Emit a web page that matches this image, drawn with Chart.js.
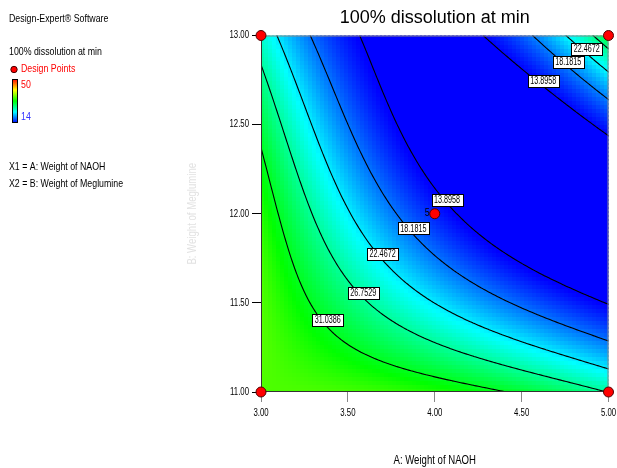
<!DOCTYPE html>
<html>
  <head>
    <script src="https://cdn.jsdelivr.net/npm/chart.js@4/dist/chart.umd.min.js"></script>
    <style>
      body { margin: 0; background: #fff; }
    </style>
  </head>

  <body>
    <canvas id="canvas" width="617" height="468"></canvas>
    <script>
      const SANS = "'Liberation Sans', Arial, sans-serif";

      const levels = [13.8958, 18.1815, 22.4672, 26.7529, 31.0386];

      // points, [A, B]
      const line13 = [[3.564, 13.0], [3.858, 12.339], [3.867, 12.33], [4.011, 12.116], [4.071, 12.077], [4.193, 11.955], [4.385, 11.834], [4.635, 11.628], [5.0, 11.479]];
      const line13b = [[4.279, 13.0], [4.529, 12.788], [4.625, 12.746], [5.0, 12.436]];
      const line18 = [[3.282, 13.0], [3.58, 12.33], [3.79, 12.011], [3.877, 11.918], [4.001, 11.787], [4.145, 11.627], [4.55, 11.47], [5.0, 11.282]];
      const line18b = [[4.558, 13.0], [4.769, 12.85], [5.0, 12.634]];
      const line22 = [[3.09, 13.0], [3.359, 12.33], [3.599, 11.862], [3.7, 11.774], [3.79, 11.628], [4.001, 11.488], [4.5, 11.295], [5.0, 11.127]];
      const line22b = [[4.75, 13.0], [4.875, 12.924], [5.0, 12.788]];
      const line26 = [[3.0, 12.844], [3.177, 12.33], [3.436, 11.628], [3.589, 11.557], [3.79, 11.422], [4.001, 11.273], [4.5, 11.114], [5.0, 11.005]];
      const line26b = [[4.903, 13.0], [5.0, 12.907]];
      const line31 = [[3.0, 12.404], [3.013, 12.33], [3.224, 11.628], [3.384, 11.404], [3.599, 11.198], [4.001, 11.086], [4.423, 11.0]];

      const spotA = [3.0, 3.0, 3.5, 4.0, 4.5, 4.2, 5.0, 3.0];
      const spotB = [11.0, 12.0, 11.0, 12.0, 12.3, 12.6, 12.0, 13.0];
      const spotV = [35, 32.8, 33.8, 14.3, 10, 11.5, 9.7, 24.9];

      // design points (A, B) and replicate count
      const designA = [3, 3, 5, 5, 4];
      const designB = [11, 13, 11, 13, 12];
      const designRuns = [1, 1, 1, 1, 5];

      // contour label placements
      const tagA = [4.071, 4.625, 4.769, 4.875, 3.877, 3.7, 3.589, 3.384];
      const tagB = [12.077, 12.746, 12.85, 12.924, 11.918, 11.774, 11.557, 11.404];
      const tagLevel = [0, 0, 1, 2, 1, 2, 3, 4];

      const scaleLow = 14;
      const scaleHigh = 50;

      const traces = [
        [line13, 0], [line13b, 0], [line18, 1], [line18b, 1], [line22, 2],
        [line22b, 2], [line26, 3], [line26b, 3], [line31, 4],
      ];

      // cubic response surface in coded units
      const TERMS = [
        (u, v) => 1, (u, v) => u, (u, v) => v, (u, v) => u * v, (u, v) => u * u,
        (u, v) => v * v, (u, v) => u * u * v, (u, v) => u * v * v, (u, v) => u * u * u, (u, v) => v * v * v,
      ];

      function fitSurface() {
        const rows = [];
        const rhs = [];
        const add = (A, B, val) => {
          rows.push(TERMS.map((t) => t(A - 4, B - 12)));
          rhs.push(val);
        };
        traces.forEach(([pts, li]) => pts.forEach((p) => add(p[0], p[1], levels[li])));
        spotA.forEach((a, i) => add(a, spotB[i], spotV[i]));

        const n = TERMS.length;
        const M = Array.from({ length: n }, () => new Array(n + 1).fill(0));
        rows.forEach((r, k) => {
          for (let i = 0; i < n; i++) {
            for (let j = 0; j < n; j++) M[i][j] += r[i] * r[j];
            M[i][n] += r[i] * rhs[k];
          }
        });
        for (let c = 0; c < n; c++) {
          let p = c;
          for (let r = c + 1; r < n; r++) if (Math.abs(M[r][c]) > Math.abs(M[p][c])) p = r;
          [M[c], M[p]] = [M[p], M[c]];
          for (let r = 0; r < n; r++) {
            if (r === c) continue;
            const f = M[r][c] / M[c][c];
            for (let k = c; k <= n; k++) M[r][k] -= f * M[c][k];
          }
        }
        return M.map((row, i) => row[n] / row[i]);
      }

      const coef = fitSurface();
      const response = (A, B) => TERMS.reduce((s, t, i) => s + coef[i] * t(A - 4, B - 12), 0);

      // blue - cyan - green - yellow - red
      const ramp = [[0, 0, 255], [0, 255, 255], [0, 255, 0], [255, 255, 0], [255, 0, 0]];
      function colourFor(val) {
        let t = (val - scaleLow) / (scaleHigh - scaleLow);
        t = Math.max(0, Math.min(1, t)) * (ramp.length - 1);
        const i = Math.min(ramp.length - 2, Math.floor(t));
        const f = t - i;
        const c = ramp[i].map((c0, k) => Math.round(c0 + (ramp[i + 1][k] - c0) * f));
        return `rgb(${c[0]},${c[1]},${c[2]})`;
      }

      // narrow lettering: Arial metrics squeezed sideways
      function squeezeText(ctx, text, x, y, size, align, colour, squeeze = 0.8) {
        ctx.save();
        ctx.font = `${size}px ${SANS}`;
        ctx.fillStyle = colour;
        ctx.textAlign = align;
        ctx.textBaseline = 'middle';
        ctx.translate(x, y);
        ctx.scale(squeeze, 1);
        ctx.fillText(text, 0, 0);
        ctx.restore();
      }

      // marching squares over a regular grid, segments in data units
      function contour(level, n) {
        const segs = [];
        const val = [];
        for (let j = 0; j <= n; j++) {
          val.push([]);
          for (let i = 0; i <= n; i++) val[j].push(response(3 + (2 * i) / n, 11 + (2 * j) / n));
        }
        const cross = (a1, b1, v1, a2, b2, v2) => {
          const f = (level - v1) / (v2 - v1);
          return [a1 + (a2 - a1) * f, b1 + (b2 - b1) * f];
        };
        for (let j = 0; j < n; j++) {
          for (let i = 0; i < n; i++) {
            const a0 = 3 + (2 * i) / n, a1 = 3 + (2 * (i + 1)) / n;
            const b0 = 11 + (2 * j) / n, b1 = 11 + (2 * (j + 1)) / n;
            const c = [
              [a0, b0, val[j][i]], [a1, b0, val[j][i + 1]],
              [a1, b1, val[j + 1][i + 1]], [a0, b1, val[j + 1][i]],
            ];
            const pts = [];
            for (let e = 0; e < 4; e++) {
              const p = c[e], q = c[(e + 1) % 4];
              if ((p[2] < level) !== (q[2] < level)) pts.push(cross(p[0], p[1], p[2], q[0], q[1], q[2]));
            }
            if (pts.length >= 2) segs.push([pts[0], pts[1]]);
            if (pts.length === 4) segs.push([pts[2], pts[3]]);
          }
        }
        return segs;
      }

      const surfacePlugin = {
        id: 'surface',
        beforeDatasetsDraw(chart) {
          const { ctx, chartArea: area } = chart;
          const xs = chart.scales.x;
          const ys = chart.scales.y;
          ctx.save();
          ctx.beginPath();
          ctx.rect(area.left, area.top, area.right - area.left, area.bottom - area.top);
          ctx.clip();

          // shaded cells
          const nx = 87, ny = 89;
          for (let i = 0; i < nx; i++) {
            const A0 = 3 + (2 * i) / nx, A1 = 3 + (2 * (i + 1)) / nx;
            const px0 = Math.floor(xs.getPixelForValue(A0));
            const px1 = Math.ceil(xs.getPixelForValue(A1));
            for (let j = 0; j < ny; j++) {
              const B0 = 11 + (2 * j) / ny, B1 = 11 + (2 * (j + 1)) / ny;
              const py0 = Math.ceil(ys.getPixelForValue(B0));
              const py1 = Math.floor(ys.getPixelForValue(B1));
              ctx.fillStyle = colourFor(response((A0 + A1) / 2, (B0 + B1) / 2));
              ctx.fillRect(px0, py1, px1 - px0 + 1, py0 - py1 + 1);
            }
          }

          // contour lines
          ctx.strokeStyle = '#000';
          ctx.lineWidth = 1.1;
          ctx.lineCap = 'round';
          levels.forEach((lv) => {
            ctx.beginPath();
            contour(lv, 160).forEach(([p, q]) => {
              ctx.moveTo(xs.getPixelForValue(p[0]), ys.getPixelForValue(p[1]));
              ctx.lineTo(xs.getPixelForValue(q[0]), ys.getPixelForValue(q[1]));
            });
            ctx.stroke();
          });

          // level tags
          tagA.forEach((a, i) => {
            const text = levels[tagLevel[i]].toFixed(4);
            const x = xs.getPixelForValue(a);
            const y = ys.getPixelForValue(tagB[i]);
            ctx.font = `10px ${SANS}`;
            const w = Math.round(ctx.measureText(text).width * 0.72 + 5);
            const h = 12;
            const l = Math.round(x - w / 2) + 0.5;
            const t = Math.round(y - h / 2) + 0.5;
            ctx.fillStyle = '#fff';
            ctx.fillRect(l, t, w, h);
            ctx.strokeStyle = '#000';
            ctx.lineWidth = 1;
            ctx.strokeRect(l, t, w, h);
            squeezeText(ctx, text, x, y + 0.5, 10, 'center', '#000', 0.72);
          });
          ctx.restore();

          // frame
          ctx.save();
          ctx.lineWidth = 1;
          ctx.strokeStyle = '#888';
          ctx.beginPath();
          ctx.moveTo(area.left, area.top + 0.5);
          ctx.lineTo(area.right, area.top + 0.5);
          ctx.moveTo(area.right - 0.5, area.top);
          ctx.lineTo(area.right - 0.5, area.bottom);
          ctx.stroke();
          ctx.strokeStyle = '#333';
          ctx.beginPath();
          ctx.moveTo(area.left + 0.5, area.top);
          ctx.lineTo(area.left + 0.5, area.bottom);
          ctx.moveTo(area.left, area.bottom - 0.5);
          ctx.lineTo(area.right, area.bottom - 0.5);
          ctx.stroke();
          ctx.restore();
        },
        afterDraw(chart) {
          const { ctx, chartArea: area } = chart;
          const xs = chart.scales.x;
          const ys = chart.scales.y;
          const midX = (area.left + area.right) / 2;

          // tick labels
          xs.ticks.forEach((t) => squeezeText(ctx, t.value.toFixed(2), xs.getPixelForValue(t.value), area.bottom + 21, 10, 'center', '#000', 0.78));
          ys.ticks.forEach((t) => squeezeText(ctx, t.value.toFixed(2), area.left - 12, ys.getPixelForValue(t.value), 10, 'right', '#000', 0.78));

          // axis captions
          squeezeText(ctx, 'A: Weight of NAOH', midX, 461, 12, 'center', '#000');
          ctx.save();
          ctx.translate(193, (area.top + area.bottom) / 2);
          ctx.rotate(-Math.PI / 2);
          squeezeText(ctx, 'B: Weight of Meglumine', 0, 0, 12, 'center', '#e2e2e2');
          ctx.restore();

          // replicate count beside the centre point
          designRuns.forEach((n, i) => {
            if (n > 1) squeezeText(ctx, String(n), xs.getPixelForValue(designA[i]) - 5, ys.getPixelForValue(designB[i]) - 1, 11, 'right', '#000');
          });

          // title
          ctx.save();
          ctx.textAlign = 'center';
          ctx.textBaseline = 'middle';
          ctx.fillStyle = '#000';
          ctx.font = `18px ${SANS}`;
          ctx.fillText('100% dissolution at min', midX, 18);
          ctx.restore();

          // side legend
          squeezeText(ctx, 'Design-Expert\u00ae Software', 9, 19, 11, 'left', '#000');
          squeezeText(ctx, '100% dissolution at min', 9, 52, 11, 'left', '#000');
          squeezeText(ctx, 'Design Points', 21, 69, 11, 'left', '#ff0000');
          ctx.save();
          ctx.fillStyle = '#ff0000';
          ctx.strokeStyle = '#400';
          ctx.lineWidth = 1;
          ctx.beginPath();
          ctx.arc(14, 69.5, 3.2, 0, Math.PI * 2);
          ctx.fill();
          ctx.stroke();

          const grad = ctx.createLinearGradient(0, 123, 0, 79);
          ramp.forEach((c, i) => grad.addColorStop(i / (ramp.length - 1), `rgb(${c[0]},${c[1]},${c[2]})`));
          ctx.fillStyle = grad;
          ctx.fillRect(12, 79, 6, 44);
          ctx.strokeStyle = '#000';
          ctx.strokeRect(12.5, 79.5, 5, 43);
          ctx.restore();
          squeezeText(ctx, String(scaleHigh), 21, 85, 11, 'left', '#ff0000');
          squeezeText(ctx, String(scaleLow), 21, 117, 11, 'left', '#3333ff');

          squeezeText(ctx, 'X1 = A: Weight of NAOH', 9, 167, 11, 'left', '#000');
          squeezeText(ctx, 'X2 = B: Weight of Meglumine', 9, 184, 11, 'left', '#000');
        },
      };

      const chart = new Chart(document.getElementById('canvas').getContext('2d'), {
        type: 'scatter',
        data: {
          datasets: [
            {
              data: designA.map((a, i) => ({ x: a, y: designB[i] })),
              backgroundColor: '#ff0000',
              borderColor: '#500000',
              borderWidth: 1,
              pointRadius: 5,
              clip: false,
            },
          ],
        },
        options: {
          responsive: false,
          animation: false,
          events: [],
          layout: {
            padding: { left: 0, right: 8.5, top: 35.5, bottom: 0 },
          },
          plugins: {
            legend: { display: false },
            tooltip: { enabled: false },
          },
          scales: {
            x: {
              type: 'linear',
              min: 3,
              max: 5,
              ticks: { stepSize: 0.5, display: false },
              grid: { drawOnChartArea: false, tickLength: 10, tickColor: '#888' },
              border: { display: false },
              afterFit: (s) => {
                s.height = 76;
              },
            },
            y: {
              type: 'linear',
              min: 11,
              max: 13,
              ticks: { stepSize: 0.5, display: false },
              grid: { drawOnChartArea: false, tickLength: 9, tickColor: '#000' },
              border: { display: false },
              afterFit: (s) => {
                s.width = 261;
              },
            },
          },
        },
        plugins: [surfacePlugin],
      });
    </script>
  </body>
</html>
